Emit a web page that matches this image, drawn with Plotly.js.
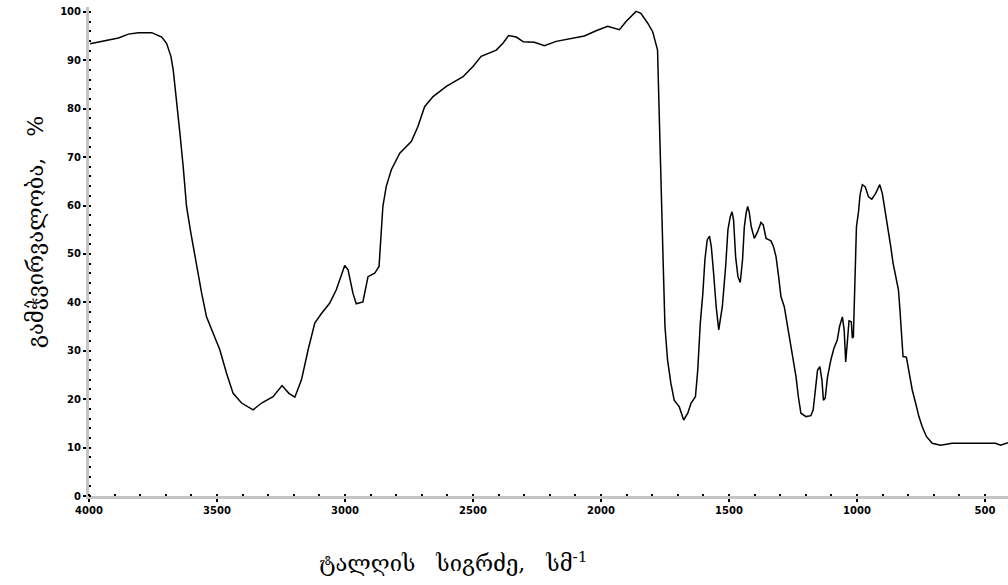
<!DOCTYPE html>
<html>
<head>
<meta charset="utf-8">
<script src="https://cdn.plot.ly/plotly-3.0.1.min.js"></script>
<style>html,body{margin:0;padding:0;background:#fff;}#chart{width:1008px;height:585px;}</style>
</head>
<body>
<div id="chart"></div>
<script>
// Wavenumber (cm-1) and transmittance (%)
const wavenumber = [3996,3938,3885,3846,3807,3755,3716,3697,3680,3671,3658,3645,3632,3619,3602,3580,3560,3541,3515,3489,3463,3437,3404,3359,3326,3281,3246,3219,3196,3170,3144,3118,3092,3060,3034,3001,2988,2969,2956,2930,2910,2884,2867,2858,2852,2839,2819,2786,2741,2715,2689,2656,2604,2539,2500,2468,2409,2383,2361,2331,2303,2260,2221,2175,2123,2065,2019,1974,1928,1902,1863,1844,1818,1798,1788,1779,1776,1770,1766,1763,1757,1750,1740,1727,1714,1694,1677,1661,1648,1631,1622,1612,1602,1594,1585,1576,1569,1560,1550,1540,1526,1513,1504,1495,1488,1482,1474,1465,1456,1447,1440,1433,1427,1421,1413,1401,1388,1375,1366,1355,1336,1326,1316,1306,1297,1284,1273,1262,1249,1238,1229,1219,1199,1180,1171,1163,1154,1145,1137,1131,1124,1115,1102,1090,1077,1068,1057,1050,1044,1037,1031,1022,1018,1014,1009,1002,994,988,979,968,955,942,927,911,901,890,879,868,859,849,838,832,825,820,807,797,784,771,758,745,729,706,673,628,537,459,439,419,410];
const transmittance = [93.4,94.1,94.6,95.4,95.7,95.7,94.8,93.5,90.8,88.0,81.8,75.0,68.0,59.8,54.3,47.4,41.9,37.0,33.6,30.2,25.4,21.2,19.2,17.8,19.2,20.5,22.8,21.2,20.4,24.0,30.2,35.7,37.7,39.8,42.6,47.6,46.7,41.9,39.7,40.1,45.3,46.0,47.4,54.3,59.8,63.9,67.4,70.8,73.2,76.3,80.4,82.5,84.6,86.6,88.7,90.8,92.1,93.5,95.1,94.8,93.8,93.7,93.0,93.9,94.4,95.0,96.1,97.0,96.3,98.0,100.1,99.7,97.7,95.9,93.9,92.1,85.9,73.6,61.2,57.0,48.1,35.0,28.1,23.3,19.8,18.4,15.7,17.1,19.2,20.5,26.0,35.7,41.9,48.8,52.9,53.7,51.5,46.0,39.1,34.3,39.1,47.4,55.0,57.7,58.7,57.0,49.4,45.3,44.1,48.8,55.6,58.4,59.8,58.7,55.6,53.2,54.6,56.5,56.0,53.2,52.7,51.5,49.4,45.3,41.2,39.1,35.7,31.5,28.1,24.6,20.5,17.1,16.4,16.6,17.8,21.9,26.0,26.7,24.0,19.8,20.2,24.6,28.1,30.5,32.2,35.0,37.0,34.3,27.7,32.2,36.2,36.0,32.6,32.9,43.2,55.6,58.7,62.2,64.3,63.9,61.8,61.3,62.5,64.3,62.5,59.1,55.0,51.5,48.1,45.3,42.6,38.4,32.9,28.8,28.7,26.0,21.9,19.2,16.4,14.3,12.3,10.9,10.5,10.9,10.9,10.9,10.5,10.9,11.0];
const xTickVals = [4000,3500,3000,2500,2000,1500,1000,500];
const yTickVals = [0,10,20,30,40,50,60,70,80,90,100];
const xTitle = "ტალღის&nbsp;&nbsp; სიგრძე,&nbsp;&nbsp; სმ<sup>-1</sup>";
const yTitle = "გამჭვირვალობა,&nbsp;&nbsp; %";

const titleFont = {family: "DejaVu Serif, DejaVu Sans, serif", size: 22, color: "#000"};
const tickFont = {family: "DejaVu Sans, sans-serif", size: 10, color: "#000", weight: "bold"};

const trace = {
  x: wavenumber, y: transmittance, type: "scatter", mode: "lines",
  line: {color: "#000", width: 1.5, shape: "linear"}, hoverinfo: "skip"
};

const layout = {
  width: 1008, height: 585,
  margin: {l: 89, r: 0, t: 7, b: 89},
  paper_bgcolor: "#fff", plot_bgcolor: "#fff",
  showlegend: false,
  xaxis: {
    range: [4000, 410], autorange: false,
    tickvals: xTickVals, ticktext: xTickVals.map(String),
    showgrid: false, zeroline: false,
    showline: true, linecolor: "#c4c4c4", linewidth: 3,
    ticks: "outside", ticklen: 3, tickwidth: 2, tickcolor: "#000",
    tickfont: tickFont,
    minor: {dtick: 100, ticks: "inside", ticklen: 2, tickwidth: 2, tickcolor: "#000", showgrid: false}
  },
  yaxis: {
    range: [0, 101], autorange: false,
    tickvals: yTickVals, ticktext: yTickVals.map(String),
    showgrid: false, zeroline: false,
    showline: true, linecolor: "#c4c4c4", linewidth: 3,
    ticks: "outside", ticklen: 3, tickwidth: 2, tickcolor: "#000",
    tickfont: tickFont,
    minor: {dtick: 2, ticks: "inside", ticklen: 2, tickwidth: 2, tickcolor: "#000", showgrid: false}
  },
  annotations: [
    {text: xTitle, xref: "paper", yref: "paper", x: (453-89)/919, y: -(562-496)/489,
     xanchor: "center", yanchor: "middle", showarrow: false, font: titleFont},
    {text: yTitle, xref: "paper", yref: "paper", x: -(89-35)/919, y: (496-232)/489,
     xanchor: "center", yanchor: "middle", textangle: -90, showarrow: false, font: titleFont}
  ]
};

Plotly.newPlot("chart", [trace], layout, {staticPlot: true, displayModeBar: false});
</script>
</body>
</html>
